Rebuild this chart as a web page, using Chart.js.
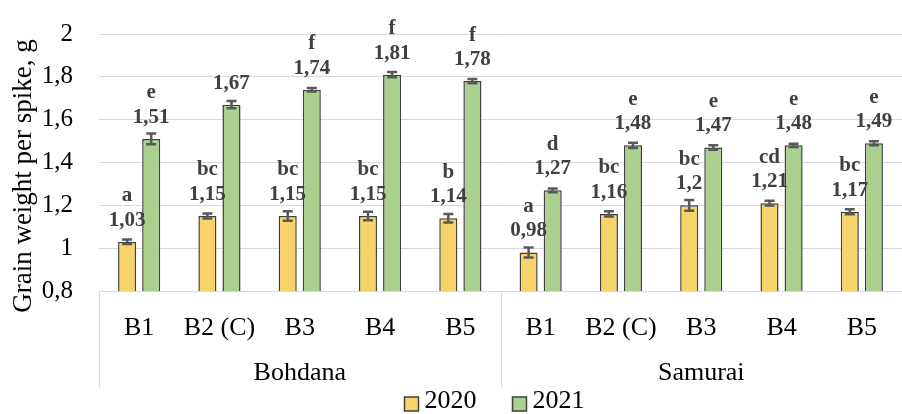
<!DOCTYPE html>
<html>
<head>
<meta charset="utf-8">
<script src="https://cdn.jsdelivr.net/npm/chart.js@4.4.1/dist/chart.umd.min.js"></script>
<style>
	html, body { margin: 0; padding: 0; background: #fff; }
	#wrap { width: 902px; height: 414px; }
</style>
</head>
<body>
<div id="wrap"><canvas id="grainChart"></canvas></div>
<script>
// данные
const categories = ["B1", "B2 (C)", "B3", "B4", "B5", "B1", "B2 (C)", "B3", "B4", "B5"];
const varieties = ["Bohdana", "Samurai"];
const seriesNames = ["2020", "2021"];
const values2020 = [1.03, 1.15, 1.15, 1.15, 1.14, 0.98, 1.16, 1.2, 1.21, 1.17];
const values2021 = [1.51, 1.67, 1.74, 1.81, 1.78, 1.27, 1.48, 1.47, 1.48, 1.49];
const errors2020 = [0.01, 0.012, 0.022, 0.02, 0.02, 0.023, 0.012, 0.025, 0.011, 0.012];
const errors2021 = [0.025, 0.017, 0.008, 0.012, 0.01, 0.009, 0.012, 0.01, 0.008, 0.009];
const letters2020 = ["a", "bc", "bc", "bc", "b", "a", "bc", "bc", "cd", "bc"];
const letters2021 = ["e", "", "f", "f", "f", "d", "e", "e", "e", "e"];
const yTicks = [0.8, 1, 1.2, 1.4, 1.6, 1.8, 2];

const colors = ["#F7D469", "#A9D08E"];
const edgeColor = "#404040";
const serif = "'Liberation Serif', 'Times New Roman', serif";

const errors = [errors2020, errors2021];
const letters = [letters2020, letters2021];

const fmt = (v) => String(Math.round(v * 100) / 100).replace(".", ",");

// планки погрешностей и подписи
const barExtras = {
	id: "barExtras",
	afterDatasetsDraw(chart) {
		const { ctx } = chart;
		const y = chart.scales.y;
		chart.data.datasets.forEach((ds, di) => {
			const meta = chart.getDatasetMeta(di);
			meta.data.forEach((bar, i) => {
				const v = ds.data[i];
				const e = errors[di][i];
				const yTop = y.getPixelForValue(v + e);
				const yBot = y.getPixelForValue(v - e);
				ctx.save();
				ctx.strokeStyle = "#595959";
				ctx.lineWidth = 2.5;
				ctx.beginPath();
				ctx.moveTo(bar.x, yTop);
				ctx.lineTo(bar.x, yBot);
				ctx.moveTo(bar.x - 5, yTop);
				ctx.lineTo(bar.x + 5, yTop);
				ctx.moveTo(bar.x - 5, yBot);
				ctx.lineTo(bar.x + 5, yBot);
				ctx.stroke();

				ctx.fillStyle = "#404040";
				ctx.font = "bold 21px " + serif;
				ctx.textAlign = "center";
				ctx.textBaseline = "middle";
				const yVal = bar.y - 21.5;
				ctx.fillText(fmt(v), bar.x, yVal);
				if (letters[di][i]) ctx.fillText(letters[di][i], bar.x, yVal - 24.5);
				ctx.restore();
			});
		});
	},
	afterDraw(chart) {
		const { ctx, chartArea } = chart;
		const x = chart.scales.x;
		ctx.save();

		// разделители групп
		ctx.strokeStyle = "#d9d9d9";
		ctx.lineWidth = 1;
		const mid = (x.getPixelForValue(4) + x.getPixelForValue(5)) / 2;
		[x.left, mid, x.right].forEach((px) => {
			ctx.beginPath();
			ctx.moveTo(Math.round(px) + 0.5, chartArea.bottom);
			ctx.lineTo(Math.round(px) + 0.5, chartArea.bottom + 97);
			ctx.stroke();
		});

		// названия сортов
		ctx.fillStyle = "#000";
		ctx.font = "26px " + serif;
		ctx.textAlign = "center";
		ctx.textBaseline = "middle";
		ctx.fillText(varieties[0], (x.left + mid) / 2, chartArea.bottom + 82);
		ctx.fillText(varieties[1], (mid + x.right) / 2, chartArea.bottom + 82);

		// заголовок оси Y
		ctx.save();
		ctx.translate(24, 176);
		ctx.rotate(-Math.PI / 2);
		ctx.font = "27px " + serif;
		ctx.fillText("Grain weight per spike, g", 0, 0);
		ctx.restore();

		// легенда
		ctx.font = "26px " + serif;
		ctx.textAlign = "left";
		const box = 14;
		const gapText = 6;
		const gapItem = 36;
		const widths = seriesNames.map((s) => box + gapText + ctx.measureText(s).width);
		const total = widths[0] + widths[1] + gapItem;
		let lx = (chartArea.left + chartArea.right) / 2 - 6 - total / 2;
		seriesNames.forEach((s, k) => {
			ctx.fillStyle = colors[k];
			ctx.fillRect(lx, 397, box, box);
			ctx.strokeStyle = edgeColor;
			ctx.lineWidth = 1.5;
			ctx.strokeRect(lx, 397, box, box);
			ctx.fillStyle = "#000";
			ctx.fillText(s, lx + box + gapText, 401);
			lx += widths[k] + gapItem;
		});
		ctx.restore();
	},
};

const ctx = document.getElementById("grainChart");

const config = {
	type: "bar",
	data: {
		labels: categories,
		datasets: [
			{
				label: seriesNames[0],
				data: values2020,
				backgroundColor: colors[0],
				borderColor: edgeColor,
				borderWidth: 1.5,
				borderSkipped: false,
				categoryPercentage: 0.6,
				barPercentage: 0.75,
			},
			{
				label: seriesNames[1],
				data: values2021,
				backgroundColor: colors[1],
				borderColor: edgeColor,
				borderWidth: 1.5,
				borderSkipped: false,
				categoryPercentage: 0.6,
				barPercentage: 0.75,
			},
		],
	},
	options: {
		responsive: true,
		maintainAspectRatio: false,
		animation: false,
		layout: {
			padding: { top: 34, right: 0, bottom: 0, left: 0 },
		},
		plugins: {
			legend: { display: false },
			tooltip: { enabled: false },
		},
		scales: {
			x: {
				grid: { display: false },
				border: { display: false },
				ticks: {
					color: "#000",
					font: { family: serif, size: 26 },
					padding: 14,
					maxRotation: 0,
					autoSkip: false,
				},
				afterFit(scale) {
					scale.height = 123;
					scale.paddingLeft = 0;
					scale.paddingRight = 0;
				},
			},
			y: {
				min: 0.8,
				max: 2,
				afterBuildTicks(scale) {
					scale.ticks = yTicks.map((v) => ({ value: v }));
				},
				grid: { color: "#d9d9d9", drawTicks: false },
				border: { display: false },
				ticks: {
					color: "#000",
					font: { family: serif, size: 25 },
					padding: 26,
					callback: (v) => fmt(v),
				},
				afterFit(scale) {
					scale.width = 99;
					scale.paddingTop = 0;
					scale.paddingBottom = 0;
				},
			},
		},
	},
	plugins: [barExtras],
};

const grainChart = new Chart(ctx, config);
</script>
</body>
</html>
